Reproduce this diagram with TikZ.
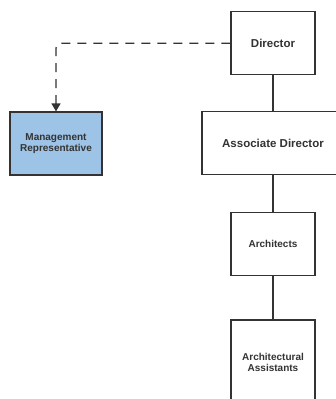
\documentclass[tikz,border=0pt]{standalone}
\usepackage{fontspec}
\setmainfont{Liberation Sans}
\usetikzlibrary{arrows.meta}
\definecolor{ink}{HTML}{333333}
\definecolor{mgmtblue}{HTML}{9DC3E6}
\tikzset{
  orgbox/.style={draw=ink, line width=1.2pt, fill=white, rectangle, inner sep=0pt,
    align=center, text=ink, font=\bfseries\fontsize{10}{11.5}\selectfont},
  bigtext/.style={font=\bfseries\fontsize{11.5}{13}\selectfont},
  link/.style={draw=ink, line width=1.5pt},
  dashlink/.style={draw=ink, line width=1.4pt, dash pattern=on 9pt off 7pt,
    rounded corners=5pt, -{Triangle[width=9pt,length=8pt]}}
}
\begin{document}
\begin{tikzpicture}[x=1pt,y=-1pt]
  \useasboundingbox (0,0) rectangle (336,399);
  \fill[white] (0,0) rectangle (336,399);
  \clip (0,0) rectangle (336,399);

  % boxes of the chain of command
  \node[orgbox, bigtext, minimum width=84pt, minimum height=63pt] (dir) at (273,43.2) {Director};
  \node[orgbox, bigtext, minimum width=142pt, minimum height=63pt] (assoc) at (273,143.2) {Associate Director};
  \node[orgbox, minimum width=84pt, minimum height=63pt] (arch) at (273,243.7) {Architects};
  \node[orgbox, minimum width=84pt, minimum height=85pt] (asst) at (273,362.5) {Architectural\\Assistants};

  % staff position beside the chain
  \node[orgbox, fill=mgmtblue, minimum width=92pt, minimum height=63pt] (mgmt) at (56,143.5) {Management\\Representative};

  % connectors
  \draw[link] (dir) -- (assoc);
  \draw[link] (assoc) -- (arch);
  \draw[link] (arch) -- (asst);
  \draw[dashlink] (dir.west) -| (mgmt.north);
\end{tikzpicture}
\end{document}
